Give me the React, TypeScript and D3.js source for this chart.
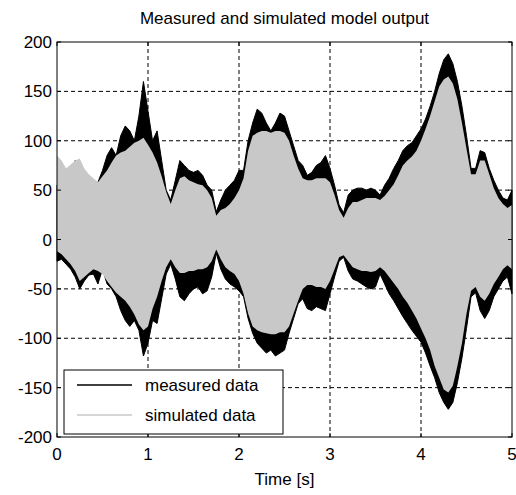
import React, { useEffect, useRef } from 'react';
import * as d3 from 'd3';

// envelope of the measured / simulated outputs, read every 0.05 s from 0 to 5 s
const sampleStep = 0.05;

const measuredUpper = [
  55, 60, 62, 60, 80, 72, 62, 58, 55, 58, 70, 85, 93, 85, 105, 115, 110, 100, 125, 160,
  130, 100, 110, 80, 50, 40, 60, 80, 75, 70, 68, 70, 65, 55, 50, 28, 40, 50, 55, 60,
  70, 70, 100, 118, 132, 128, 118, 110, 118, 128, 125, 110, 95, 80, 75, 65, 68, 75, 78, 85,
  72, 55, 35, 27, 45, 50, 52, 52, 50, 52, 50, 45, 55, 62, 72, 80, 90, 95, 98, 105,
  112, 122, 135, 150, 168, 182, 188, 178, 160, 135, 105, 72, 72, 90, 88, 72, 60, 50, 42, 40,
  50,
];

const measuredLower = [
  -22, -20, -25, -30, -38, -50, -42, -36, -35, -45, -30, -45, -50, -58, -72, -82, -88, -82, -92, -118,
  -105, -82, -85, -60, -35, -25, -40, -58, -62, -55, -50, -48, -55, -52, -38, -14, -30, -40, -45, -48,
  -52, -58, -80, -95, -105, -110, -115, -112, -118, -115, -112, -95, -80, -65, -60, -70, -72, -68, -70, -72,
  -55, -38, -22, -18, -32, -40, -42, -45, -48, -50, -48, -35, -45, -55, -62, -70, -78, -85, -92, -98,
  -104, -115, -128, -140, -155, -165, -172, -165, -145, -120, -90, -58, -54, -72, -80, -72, -58, -50, -42, -38,
  -55,
];

const simulatedUpper = [
  85, 80, 72, 76, 80, 82, 72, 66, 62, 58, 64, 70, 78, 85, 88, 90, 94, 98, 100, 103,
  96, 88, 78, 64, 48, 36, 50, 62, 64, 60, 58, 56, 55, 50, 42, 24, 30, 32, 36, 42,
  50, 62, 90, 105, 108, 110, 110, 108, 110, 110, 108, 100, 85, 72, 62, 60, 60, 62, 62, 62,
  58, 45, 30, 22, 32, 38, 38, 40, 42, 42, 42, 40, 44, 50, 56, 65, 75, 80, 84, 90,
  100, 112, 125, 140, 155, 162, 165, 158, 142, 118, 92, 66, 66, 80, 80, 66, 52, 42, 36, 32,
  35,
];

const simulatedLower = [
  -12, -15, -20, -25, -32, -42, -38, -34, -30, -32, -35, -42, -48, -54, -58, -62, -68, -76, -86, -92,
  -88, -70, -58, -42, -28, -20, -28, -34, -34, -32, -32, -30, -30, -28, -22, -10, -20, -28, -32, -35,
  -42, -55, -75, -88, -92, -94, -95, -96, -96, -94, -94, -88, -75, -62, -50, -46, -46, -48, -48, -50,
  -42, -30, -18, -16, -22, -28, -30, -32, -32, -33, -32, -28, -32, -38, -44, -50, -58, -64, -72, -80,
  -90, -100, -112, -128, -140, -152, -155, -148, -128, -105, -75, -52, -48, -58, -62, -55, -45, -38, -30, -26,
  -30,
];

const xTicks = [0, 1, 2, 3, 4, 5];
const yTicks = [-200, -150, -100, -50, 0, 50, 100, 150, 200];
const legendLabels = ['measured data', 'simulated data'];

const width = 516;
const height = 495;
const margin = { top: 42, right: 4, bottom: 58, left: 57 };
const font = '"Liberation Sans", Arial, sans-serif';
const fontSize = 17;

const App = () => {
  const svgRef = useRef<SVGSVGElement>(null);

  useEffect(() => {
    const svg = d3.select(svgRef.current);
    svg.selectAll('*').remove();

    const x = d3
      .scaleLinear()
      .domain([0, 5])
      .range([margin.left, width - margin.right]);
    const y = d3
      .scaleLinear()
      .domain([-200, 200])
      .range([height - margin.bottom, margin.top]);

    const plotW = x.range()[1] - x.range()[0];
    const plotH = y.range()[0] - y.range()[1];

    svg
      .append('rect')
      .attr('x', x.range()[0])
      .attr('y', y.range()[1])
      .attr('width', plotW)
      .attr('height', plotH)
      .attr('fill', '#fff');

    // dashed grid under the data
    const grid = svg.append('g').attr('stroke', '#000').attr('stroke-dasharray', '4,3');
    grid
      .selectAll('line.gx')
      .data(xTicks.slice(1, -1))
      .enter()
      .append('line')
      .attr('x1', d => x(d))
      .attr('x2', d => x(d))
      .attr('y1', y(200))
      .attr('y2', y(-200));
    grid
      .selectAll('line.gy')
      .data(yTicks.slice(1, -1))
      .enter()
      .append('line')
      .attr('x1', x(0))
      .attr('x2', x(5))
      .attr('y1', d => y(d))
      .attr('y2', d => y(d));

    const idx = d3.range(measuredUpper.length);
    const measuredArea = d3
      .area<number>()
      .x(i => x(i * sampleStep))
      .y0(i => y(measuredLower[i]))
      .y1(i => y(measuredUpper[i]));
    const simulatedArea = d3
      .area<number>()
      .x(i => x(i * sampleStep))
      .y0(i => y(simulatedLower[i]))
      .y1(i => y(simulatedUpper[i]));

    svg
      .append('path')
      .attr('d', measuredArea(idx))
      .attr('fill', '#000')
      .attr('stroke', '#000')
      .attr('stroke-width', 1);
    svg
      .append('path')
      .attr('d', simulatedArea(idx))
      .attr('fill', '#c8c8c8');

    // box + inner ticks
    svg
      .append('rect')
      .attr('x', x.range()[0])
      .attr('y', y.range()[1])
      .attr('width', plotW)
      .attr('height', plotH)
      .attr('fill', 'none')
      .attr('stroke', '#000');

    const ticks = svg.append('g').attr('stroke', '#000');
    xTicks.forEach(t => {
      ticks.append('line').attr('x1', x(t)).attr('x2', x(t)).attr('y1', y(-200)).attr('y2', y(-200) - 4);
      ticks.append('line').attr('x1', x(t)).attr('x2', x(t)).attr('y1', y(200)).attr('y2', y(200) + 4);
    });
    yTicks.forEach(t => {
      ticks.append('line').attr('x1', x(0)).attr('x2', x(0) + 4).attr('y1', y(t)).attr('y2', y(t));
      ticks.append('line').attr('x1', x(5)).attr('x2', x(5) - 4).attr('y1', y(t)).attr('y2', y(t));
    });

    const labels = svg
      .append('g')
      .attr('font-family', font)
      .attr('font-size', fontSize)
      .attr('fill', '#000');
    labels
      .selectAll('text.xl')
      .data(xTicks)
      .enter()
      .append('text')
      .attr('x', d => x(d))
      .attr('y', y(-200) + 23)
      .attr('text-anchor', 'middle')
      .text(d => d);
    labels
      .selectAll('text.yl')
      .data(yTicks)
      .enter()
      .append('text')
      .attr('x', x(0) - 5)
      .attr('y', d => y(d) + 6)
      .attr('text-anchor', 'end')
      .text(d => d);

    labels
      .append('text')
      .attr('x', (x(0) + x(5)) / 2)
      .attr('y', 24)
      .attr('text-anchor', 'middle')
      .text('Measured and simulated model output');
    labels
      .append('text')
      .attr('x', (x(0) + x(5)) / 2)
      .attr('y', 485)
      .attr('text-anchor', 'middle')
      .text('Time [s]');

    // legend
    const legend = svg.append('g').attr('transform', 'translate(64,370)');
    legend
      .append('rect')
      .attr('width', 219)
      .attr('height', 64)
      .attr('fill', '#fff')
      .attr('stroke', '#000');
    legend
      .selectAll('g.item')
      .data(legendLabels)
      .enter()
      .append('g')
      .attr('transform', (_, i) => `translate(0,${15 + i * 30})`)
      .each(function (d, i) {
        const g = d3.select(this);
        g.append('line')
          .attr('x1', 13)
          .attr('x2', 68)
          .attr('stroke', i === 0 ? '#000' : '#c8c8c8')
          .attr('stroke-width', 1.5);
        g.append('text')
          .attr('x', 81)
          .attr('y', 6)
          .attr('font-family', font)
          .attr('font-size', fontSize)
          .text(d);
      });
  }, []);

  return (
    <svg
      ref={svgRef}
      width={width}
      height={height}
      style={{ position: 'absolute', left: 0, top: 0, background: '#fff' }}
    />
  );
};

export default App;
